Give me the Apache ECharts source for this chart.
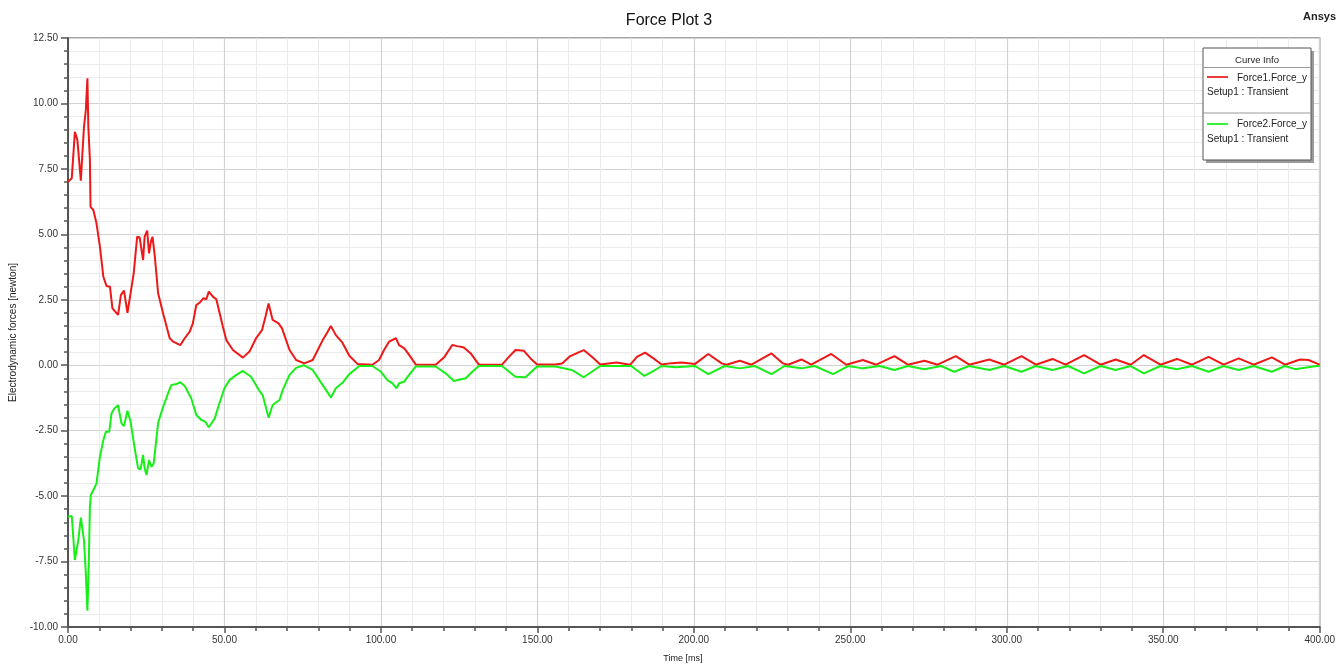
<!DOCTYPE html>
<html>
<head>
<meta charset="utf-8">
<script src="https://cdn.jsdelivr.net/npm/echarts@6/dist/echarts.min.js"></script>
<style>html,body{margin:0;padding:0;background:#fff}#c{width:1338px;height:669px}</style>
</head>
<body>
<div id="c"></div>
<script>
const titleText = 'Force Plot 3';
const xName = 'Time [ms]';
const yName = 'Electrodynamic forces [newton]';
const seriesNames = ['Force1.Force_y', 'Force2.Force_y'];
const setupLabel = 'Setup1 : Transient';

const force1Time = [0,1.2,2.2,3.0,4.1,5.1,5.7,6.2,6.5,7.0,7.2,8.1,9.1,10.2,11.3,12.3,13.4,14.2,16.0,16.9,17.9,19.0,20.0,21.0,22.1,22.9,24.0,24.5,25.3,25.9,26.5,27.0,27.7,28.8,30.4,32.5,33.6,35.9,37.3,38.9,39.9,41.0,42.1,43.3,44.2,45.0,46.3,47.4,49.5,50.6,52.7,55.9,58.0,60.1,62.0,63.1,64.1,65.4,67.3,68.4,70.8,72.9,75.5,78.2,81.4,83.0,84.0,85.6,87.7,89.9,92.5,97.3,99.4,101.0,102.6,104.8,105.8,106.4,107.4,108.5,111.1,117.5,120.2,122.8,124.4,126.5,128.7,131.3,138.7,140.9,143.0,145.7,147.8,149.9,155.8,157.9,160.5,164.8,167.4,170.1,172.7,175.4,178.1,179.7,181.8,184.4,187.1,189.7,192.9,196.1,200.4,204.6,208.9,210.4,214.7,218.4,224.8,228.5,230.1,234.4,237.5,243.9,248.7,254.0,258.3,264.1,268.4,273.7,277.9,283.7,288.0,294.4,299.2,304.7,309.3,314.6,318.8,324.7,330.0,334.8,339.6,343.8,349.1,354.4,359.2,364.5,369.3,374.1,378.9,384.7,388.9,393.7,396.4,400];
const force1Value = [7.01,7.14,8.92,8.6,7.05,9.1,9.75,10.96,9.1,7.84,6.05,5.93,5.42,4.53,3.38,3.03,3.0,2.17,1.92,2.68,2.85,2.0,2.75,3.51,4.91,4.88,4.02,4.91,5.14,4.27,4.72,4.91,4.21,2.75,1.98,1.03,0.9,0.77,1.03,1.28,1.6,2.3,2.39,2.56,2.52,2.81,2.62,2.52,1.47,0.96,0.58,0.29,0.52,1.03,1.34,1.85,2.36,1.73,1.6,1.41,0.58,0.2,0.07,0.2,0.96,1.28,1.5,1.15,0.86,0.36,0.05,0.02,0.2,0.58,0.9,1.03,0.77,0.84,0.65,0.48,0.03,0.02,0.3,0.77,0.73,0.68,0.45,0.02,0.02,0.32,0.58,0.55,0.26,0.03,0.03,0.07,0.35,0.58,0.32,0.03,0.07,0.1,0.05,0.02,0.32,0.48,0.26,0.03,0.08,0.1,0.05,0.43,0.07,0.02,0.17,0.02,0.45,0.07,0.02,0.22,0.02,0.43,0.02,0.2,0.02,0.35,0.02,0.17,0.02,0.35,0.02,0.22,0.02,0.35,0.02,0.24,0.02,0.39,0.02,0.22,0.02,0.39,0.02,0.24,0.02,0.32,0.02,0.26,0.02,0.3,0.02,0.22,0.2,0.02];

const force2Time = [0,1.2,2.2,3.3,4.1,5.1,5.7,6.2,6.6,7.0,7.3,8.4,9.1,10.2,11.3,12.1,13.2,13.9,14.8,16.0,17.1,17.9,19.0,20.0,21.4,22.4,23.2,24.0,24.5,25.1,25.9,26.7,27.4,28.8,30.4,32.0,33.0,34.6,35.9,37.3,39.4,41.0,42.6,43.9,45.0,46.9,48.2,50.0,51.6,53.8,55.9,58.5,61.0,62.2,64.1,65.4,67.6,68.6,70.8,72.9,75.3,78.2,81.4,82.8,84.0,85.6,87.7,89.9,93.1,97.3,100.0,102.1,103.7,105.0,105.8,107.4,109.0,111.1,117.5,120.7,123.3,127.1,129.2,131.3,138.7,143.0,146.2,149.9,155.8,161.0,164.8,170.1,180.0,184.2,186.6,189.7,194.3,200.4,204.6,209.9,214.7,219.5,224.8,229.0,234.4,238.6,244.5,249.3,254.0,259.4,264.1,268.4,273.7,279.0,283.2,288.0,294.4,299.2,304.7,309.3,314.6,319.6,324.7,330.0,334.8,339.6,343.8,349.1,354.4,359.2,364.5,369.3,374.1,378.9,384.7,388.9,392.1,399.0,400];
const force2Value = [-5.79,-5.76,-7.44,-6.68,-5.82,-6.68,-7.95,-9.38,-7.82,-5.4,-4.96,-4.7,-4.51,-3.49,-2.86,-2.54,-2.54,-1.84,-1.65,-1.53,-2.22,-2.32,-1.74,-2.16,-3.24,-3.94,-3.98,-3.43,-3.94,-4.19,-3.62,-3.88,-3.75,-2.2,-1.59,-1.07,-0.76,-0.72,-0.65,-0.79,-1.27,-1.9,-2.09,-2.16,-2.37,-2.03,-1.52,-0.88,-0.57,-0.37,-0.22,-0.44,-0.95,-1.14,-2.0,-1.52,-1.33,-0.95,-0.37,-0.1,0.0,-0.18,-0.76,-1.01,-1.23,-0.88,-0.67,-0.34,-0.03,-0.03,-0.25,-0.57,-0.69,-0.88,-0.69,-0.63,-0.37,-0.05,-0.05,-0.31,-0.6,-0.5,-0.25,-0.03,-0.03,-0.44,-0.46,-0.05,-0.05,-0.18,-0.46,-0.03,-0.03,-0.41,-0.25,-0.03,-0.08,-0.03,-0.34,-0.03,-0.12,-0.03,-0.34,-0.03,-0.12,-0.03,-0.34,-0.03,-0.12,-0.03,-0.18,-0.03,-0.15,-0.03,-0.25,-0.03,-0.18,-0.03,-0.25,-0.03,-0.18,-0.03,-0.31,-0.03,-0.18,-0.03,-0.31,-0.03,-0.15,-0.03,-0.25,-0.03,-0.18,-0.03,-0.25,-0.03,-0.15,-0.03,-0.03];

const colors = ['#ee1818', '#18ee18'];
const FONT = 'Liberation Sans, Arial, sans-serif';

function zip(a, b) { return a.map((t, i) => [t, b[i]]); }

const chart = echarts.init(document.getElementById('c'), null, {renderer: 'canvas'});

const lx = 1203, ly = 48, lw = 108, lh = 112;

chart.setOption({
  animation: false,
  backgroundColor: '#ffffff',
  title: {
    text: titleText, left: 'center', top: 8,
    textStyle: {fontFamily: FONT, fontSize: 16, fontWeight: 'normal', color: '#111'}
  },
  grid: {left: 68, right: 15, top: 38, bottom: 42, show: true, borderColor: '#8a8a8a', borderWidth: 1.5, backgroundColor: 'transparent'},
  xAxis: {
    type: 'value', min: 0, max: 400, interval: 50,
    name: xName, nameLocation: 'middle', nameGap: 27,
    nameTextStyle: {fontFamily: FONT, fontSize: 9, color: '#222', padding: [0, 22, 0, 0]},
    axisLine: {show: true, onZero: false, lineStyle: {color: '#555', width: 2}},
    axisTick: {show: true, length: 6, lineStyle: {color: '#555', width: 1.5}},
    minorTick: {show: true, splitNumber: 5, length: 4, lineStyle: {color: '#555', width: 1.5}},
    axisLabel: {fontFamily: FONT, fontSize: 10, color: '#333', margin: 8, formatter: v => v.toFixed(2)},
    splitLine: {show: true, lineStyle: {color: '#d2d2d2', width: 1.2}},
    minorSplitLine: {show: true, lineStyle: {color: '#ebebeb', width: 1}}
  },
  yAxis: {
    type: 'value', min: -10, max: 12.5, interval: 2.5,
    name: yName, nameLocation: 'middle', nameGap: 48, nameRotate: 90,
    nameTextStyle: {fontFamily: FONT, fontSize: 10, color: '#222'},
    axisLine: {show: true, onZero: false, lineStyle: {color: '#555', width: 2}},
    axisTick: {show: true, length: 7, lineStyle: {color: '#555', width: 1.5}},
    minorTick: {show: true, splitNumber: 5, length: 4, lineStyle: {color: '#555', width: 1.5}},
    axisLabel: {fontFamily: FONT, fontSize: 10, color: '#333', margin: 10, formatter: v => v.toFixed(2)},
    splitLine: {show: true, lineStyle: {color: '#d2d2d2', width: 1.2}},
    minorSplitLine: {show: true, lineStyle: {color: '#ebebeb', width: 1}}
  },
  series: [
    {name: seriesNames[0], type: 'line', data: zip(force1Time, force1Value), showSymbol: false, lineStyle: {color: colors[0], width: 2}, itemStyle: {color: colors[0]}},
    {name: seriesNames[1], type: 'line', data: zip(force2Time, force2Value), showSymbol: false, lineStyle: {color: colors[1], width: 2}, itemStyle: {color: colors[1]}}
  ],
  graphic: [
    {type: 'text', right: 2, top: 11, style: {text: 'Ansys', font: 'bold 11px ' + FONT, fill: '#222'}},
    {type: 'rect', shape: {x: lx + 3, y: ly + 3, width: lw, height: lh}, style: {fill: '#9a9a9a'}, z: 20},
    {type: 'rect', shape: {x: lx, y: ly, width: lw, height: lh}, style: {fill: '#ffffff', stroke: '#555', lineWidth: 1}, z: 21},
    {type: 'text', x: lx + lw / 2, y: ly + 12, style: {text: 'Curve Info', font: '9.5px ' + FONT, fill: '#222', align: 'center', verticalAlign: 'middle'}, z: 22},
    {type: 'line', shape: {x1: lx, y1: ly + 19.5, x2: lx + lw, y2: ly + 19.5}, style: {stroke: '#999', lineWidth: 1}, z: 22},
    {type: 'line', shape: {x1: lx + 4, y1: ly + 29, x2: lx + 25, y2: ly + 29}, style: {stroke: '#ee3a3a', lineWidth: 2}, z: 22},
    {type: 'text', x: lx + 34, y: ly + 30, style: {text: seriesNames[0], font: '10px ' + FONT, fill: '#222', verticalAlign: 'middle'}, z: 22},
    {type: 'text', x: lx + 4, y: ly + 44, style: {text: setupLabel, font: '10px ' + FONT, fill: '#222', verticalAlign: 'middle'}, z: 22},
    {type: 'line', shape: {x1: lx, y1: ly + 65, x2: lx + lw, y2: ly + 65}, style: {stroke: '#999', lineWidth: 1}, z: 22},
    {type: 'line', shape: {x1: lx + 4, y1: ly + 76, x2: lx + 25, y2: ly + 76}, style: {stroke: '#3aee3a', lineWidth: 2}, z: 22},
    {type: 'text', x: lx + 34, y: ly + 76.5, style: {text: seriesNames[1], font: '10px ' + FONT, fill: '#222', verticalAlign: 'middle'}, z: 22},
    {type: 'text', x: lx + 4, y: ly + 91, style: {text: setupLabel, font: '10px ' + FONT, fill: '#222', verticalAlign: 'middle'}, z: 22}
  ]
});
</script>
</body>
</html>
